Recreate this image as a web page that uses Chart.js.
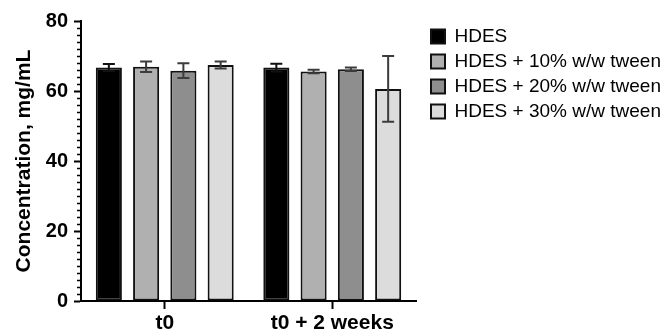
<!DOCTYPE html>
<html>
<head>
<meta charset="utf-8">
<script src="https://cdn.jsdelivr.net/npm/chart.js@4/dist/chart.umd.min.js"></script>
<style>
  html, body { margin: 0; padding: 0; background: #fff; }
  #wrap { width: 663px; height: 333px; position: relative; }
</style>
</head>
<body>
<div id="wrap"><canvas id="c" width="663" height="333"></canvas></div>
<script>
const categories = ['t0', 't0 + 2 weeks'];
const seriesNames = ['HDES', 'HDES + 10% w/w tween', 'HDES + 20% w/w tween', 'HDES + 30% w/w tween'];
const hdes = [66.7, 66.7];
const tween10 = [66.9, 65.6];
const tween20 = [65.8, 66.2];
const tween30 = [67.4, 60.6];
const hdesErr = [1.0, 1.1];
const tween10Err = [1.5, 0.5];
const tween20Err = [2.1, 0.5];
const tween30Err = [1.0, 9.4];
const yTicks = [0, 20, 40, 60, 80];

const fills = ['#000000', '#b0b0b0', '#8e8e8e', '#dcdcdc'];
const values = [hdes, tween10, tween20, tween30];
const errs = [hdesErr, tween10Err, tween20Err, tween30Err];

const FONT = '"Liberation Sans", Arial, Helvetica, sans-serif';

const errorBars = {
  id: 'errorBars',
  afterDatasetsDraw(chart) {
    const ctx = chart.ctx;
    const y = chart.scales.y;
    chart.data.datasets.forEach((ds, di) => {
      const meta = chart.getDatasetMeta(di);
      meta.data.forEach((bar, i) => {
        const v = ds.data[i];
        const e = ds.errors[i];
        const top = y.getPixelForValue(v + e);
        const bot = y.getPixelForValue(v - e);
        const x = bar.x;
        ctx.save();
        ctx.strokeStyle = di === 0 ? '#111' : '#3c3c3c';
        ctx.lineWidth = 2;
        ctx.beginPath();
        ctx.moveTo(x, top); ctx.lineTo(x, bot);
        ctx.moveTo(x - 6, top); ctx.lineTo(x + 6, top);
        ctx.moveTo(x - 6, bot); ctx.lineTo(x + 6, bot);
        ctx.stroke();
        ctx.restore();
      });
    });
  }
};

const minorTicks = {
  id: 'minorTicks',
  afterDraw(chart) {
    const ctx = chart.ctx;
    const y = chart.scales.y;
    const x0 = chart.chartArea.left;
    ctx.save();
    ctx.strokeStyle = '#000';
    ctx.lineWidth = 1.5;
    ctx.beginPath();
    for (let v = y.min; v <= y.max; v += 2) {
      if (yTicks.includes(v)) continue;
      const py = Math.round(y.getPixelForValue(v)) + 0.5;
      ctx.moveTo(x0 - 4, py); ctx.lineTo(x0, py);
    }
    ctx.stroke();
    ctx.restore();
  }
};

new Chart(document.getElementById('c'), {
  type: 'bar',
  data: {
    labels: categories,
    datasets: seriesNames.map((name, k) => ({
      label: name,
      data: values[k],
      errors: errs[k],
      backgroundColor: fills[k],
      borderColor: '#111',
      borderWidth: 2,
      borderSkipped: false,
      barPercentage: 0.7,
      categoryPercentage: 0.89
    }))
  },
  options: {
    responsive: false,
    animation: false,
    devicePixelRatio: 1,
    layout: { padding: { left: 0, right: 0, top: 21, bottom: 0 } },
    plugins: {
      tooltip: { enabled: false },
      legend: {
        position: 'right',
        align: 'start',
        maxWidth: 238,
        labels: {
          font: { family: FONT, size: 19 },
          color: '#000',
          boxWidth: 14,
          boxHeight: 14,
          padding: 6
        }
      }
    },
    scales: {
      x: {
        type: 'category',
        offset: true,
        grid: { display: true, drawOnChartArea: false, offset: false, tickLength: 8, tickWidth: 2, tickColor: '#000' },
        border: { display: true, color: '#000', width: 2 },
        ticks: { font: { family: FONT, size: 21, weight: 'bold' }, color: '#000', padding: 2, maxRotation: 0 },
        afterFit(s) { s.height = 32; }
      },
      y: {
        min: 0,
        max: 80,
        afterBuildTicks(s) { s.ticks = yTicks.map(v => ({ value: v })); },
        grid: { display: true, drawOnChartArea: false, tickLength: 7, tickWidth: 2, tickColor: '#000' },
        border: { display: true, color: '#000', width: 2 },
        ticks: { font: { family: FONT, size: 20, weight: 'bold' }, color: '#000', padding: 6 },
        title: {
          display: true,
          text: 'Concentration, mg/mL',
          font: { family: FONT, size: 21, weight: 'bold' },
          color: '#000',
          padding: { top: 12, bottom: 0 }
        },
        afterFit(s) { s.width = 81; }
      },
      pad: {
        type: 'linear',
        position: 'right',
        display: true,
        grid: { display: false },
        ticks: { display: false },
        border: { display: false },
        afterFit(s) { s.width = 9; }
      }
    }
  },
  plugins: [errorBars, minorTicks]
});
</script>
</body>
</html>
